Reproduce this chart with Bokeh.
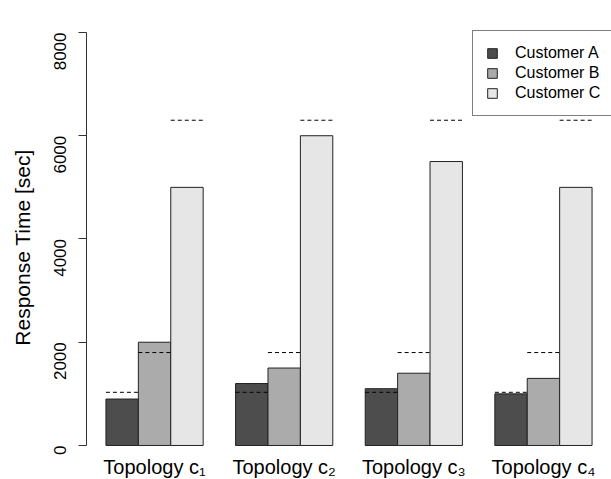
import numpy as np
from bokeh.plotting import figure
from bokeh.models import Range1d, FixedTicker, Legend, LegendItem, ColumnDataSource, LabelSet
from bokeh.core.properties import value
from bokeh.embed import file_html
from bokeh.resources import INLINE

# ---- data ----
topologies = ["Topology c\u2081", "Topology c\u2082", "Topology c\u2083", "Topology c\u2084"]
customers = ["Customer A", "Customer B", "Customer C"]
customer_a = [900, 1200, 1100, 1000]
customer_b = [2000, 1500, 1400, 1300]
customer_c = [5000, 6000, 5500, 5000]
expected = [1030, 1800, 6300]          # dashed reference levels per customer
y_ticks = [0, 2000, 4000, 6000, 8000]

colors = ["#4d4d4d", "#ababab", "#e6e6e6"]
series = [customer_a, customer_b, customer_c]

FONT = "Liberation Sans"

p = figure(width=611, height=479, output_backend="svg", toolbar_location=None,
           x_range=Range1d(0.4, 16.6), y_range=Range1d(-659, 8329),
           min_border_left=86, min_border_right=0, min_border_top=15,
           min_border_bottom=0)
p.outline_line_color = None
p.grid.visible = False
p.background_fill_color = "white"
p.border_fill_color = "white"
p.xaxis.visible = False

n = len(topologies)
group_start = [1 + 4 * i for i in range(n)]
renderers = []
for k, (vals, col) in enumerate(zip(series, colors)):
    xs = [g + k + 0.5 for g in group_start]
    src = ColumnDataSource(dict(x=xs, top=vals))
    r = p.vbar(x="x", top="top", bottom=0, width=1.0, source=src,
               fill_color=col, line_color="#222222", line_width=1)
    renderers.append(r)

# dashed expected-level lines over each bar
for k, lvl in enumerate(expected):
    x0 = [g + k for g in group_start]
    x1 = [g + k + 1 for g in group_start]
    p.segment(x0=x0, x1=x1, y0=[lvl] * n, y1=[lvl] * n,
              line_color="black", line_width=1, line_dash="4 3")

# group labels under the bars
centers = [g + 1.5 for g in group_start]
lab_src = ColumnDataSource(dict(x=centers, y=[0] * n, text=topologies))
labels = LabelSet(x="x", y="y", text="text", source=lab_src,
                  text_align="center", text_baseline="top", y_offset=-11,
                  text_font=value(FONT), text_font_size=value("20px"),
                  text_color="black")
p.add_layout(labels)

leg_items = [LegendItem(label=name, renderers=[r]) for name, r in zip(customers, renderers)]
legend = Legend(items=leg_items, location=(386, 363),
                label_text_font=FONT, label_text_font_size="16px",
                label_text_color="black",
                glyph_width=12, glyph_height=12, label_height=18, spacing=2,
                label_standoff=17, padding=13, margin=0,
                border_line_color="black", border_line_width=1,
                background_fill_color="white", background_fill_alpha=1.0)
p.add_layout(legend, "center")

# y axis
ya = p.yaxis[0]
ya.ticker = FixedTicker(ticks=y_ticks)
ya.bounds = (0, 8000)
ya.major_label_orientation = np.pi / 2
ya.major_label_text_font = FONT
ya.major_label_text_font_size = "17px"
ya.major_label_text_color = "black"
ya.major_tick_out = 8
ya.major_tick_in = 0
ya.minor_tick_out = 0
ya.minor_tick_in = 0
ya.major_label_standoff = 18
ya.axis_line_color = "#333333"
ya.major_tick_line_color = "#333333"
ya.axis_label = "Response Time [sec]"
ya.axis_label_text_font = FONT
ya.axis_label_text_font_size = "21px"
ya.axis_label_text_font_style = "normal"
ya.axis_label_text_color = "black"
ya.axis_label_standoff = 12

open("out.html", "w").write(file_html(p, INLINE))
